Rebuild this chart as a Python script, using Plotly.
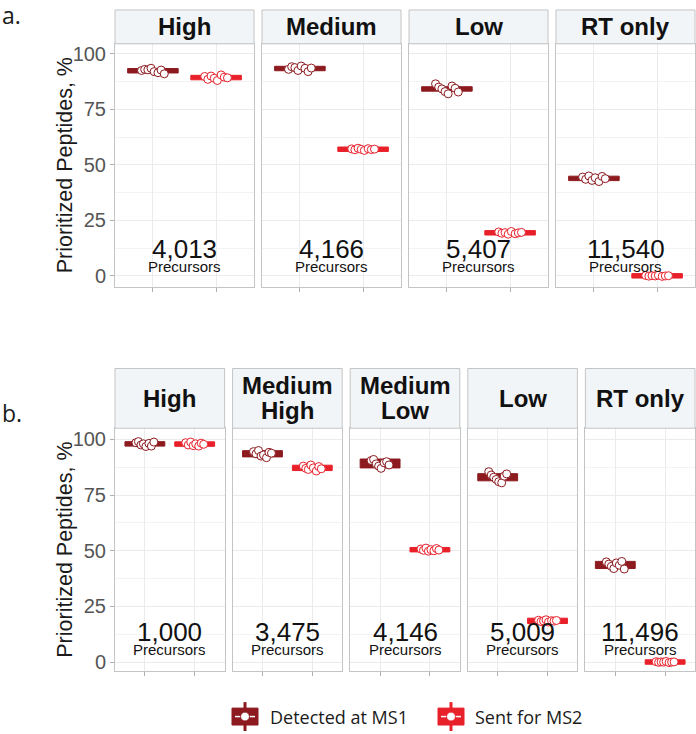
import plotly.graph_objects as go

# ---------------- data ----------------
facets_a = ["High", "Medium", "Low", "RT only"]
precursors_a = ["4,013", "4,166", "5,407", "11,540"]
detected_a = [
    [92.5, 93.0, 92.8, 93.5, 92.0, 91.5, 92.7, 91.0],
    [93.0, 94.2, 93.8, 92.5, 94.5, 93.5, 92.0, 93.6],
    [86.5, 85.0, 84.2, 83.0, 82.0, 85.5, 84.5, 82.8],
    [44.5, 43.5, 45.0, 43.0, 44.2, 42.5, 44.8, 43.8],
]
detected_sd_a = [1.0, 1.0, 1.0, 1.0]
sent_a = [
    [89.8, 88.5, 90.0, 89.0, 88.0, 90.5, 89.5, 89.2],
    [57.2, 56.8, 57.5, 57.0, 56.5, 57.3, 56.9, 57.1],
    [19.8, 19.2, 19.5, 18.8, 20.0, 19.0, 19.4, 19.6],
    [0.2, -0.1, 0.1, 0.0, 0.3, -0.2, 0.0, 0.1],
]
sent_sd_a = [1.0, 1.0, 1.0, 1.0]

facets_b = ["High", "Medium<br>High", "Medium<br>Low", "Low", "RT only"]
precursors_b = ["1,000", "3,475", "4,146", "5,009", "11,496"]
detected_b = [
    [98.5, 99.0, 97.5, 98.0, 96.8, 98.2, 97.0, 98.8],
    [94.5, 93.5, 95.0, 92.5, 93.0, 91.8, 94.2, 93.8],
    [90.5, 91.0, 89.0, 88.0, 87.0, 89.5, 90.0, 88.5],
    [85.5, 84.0, 83.0, 82.0, 81.0, 80.5, 83.5, 84.5],
    [45.0, 44.0, 43.0, 42.0, 44.5, 43.5, 45.2, 41.8],
]
detected_sd_b = [1.0, 1.4, 2.0, 1.6, 1.6]
sent_b = [
    [98.5, 97.5, 98.8, 97.2, 98.0, 97.0, 98.3, 97.8],
    [88.0, 87.0, 86.5, 88.5, 87.2, 85.8, 87.8, 86.8],
    [50.8, 50.2, 51.2, 49.8, 50.5, 50.0, 51.0, 50.3],
    [18.8, 18.2, 18.5, 19.0, 18.0, 18.6, 18.4, 18.7],
    [0.2, -0.1, 0.1, 0.0, 0.3, -0.2, 0.0, 0.1],
]
sent_sd_b = [1.0, 1.2, 1.0, 1.2, 1.0]

series_names = ["Detected at MS1", "Sent for MS2"]
y_ticks = [0, 25, 50, 75, 100]

# ---------------- style ----------------
W, H = 696, 734
COL = ["#8c1a1f", "#e8202a"]
JIT = [-0.18, -0.13, -0.08, -0.03, 0.02, 0.08, 0.13, 0.18]
STRIP_FILL = "#f2f5f8"
BORDER = "#c4c4c4"
GRID = "#ebebeb"
FONT = "Liberation Sans"


def fx(x):
    return x / W


def fy(y):
    return 1 - y / H


fig = go.Figure()
layout = dict(width=W, height=H, autosize=False, margin=dict(l=0, r=0, t=0, b=0),
              plot_bgcolor="white", paper_bgcolor="white", showlegend=False,
              barmode="overlay")
shapes = []
annotations = []

rows = [
    dict(facets=facets_a, prec=precursors_a, det=detected_a, sent=sent_a,
         dsd=detected_sd_a, ssd=sent_sd_a,
         x0=115, x1=695, gap=8, strip=(9, 43), plot=(43, 287), yr=[-4.9, 104.5],
         ny=12.2, py=4.2, label="a.", label_y=14),
    dict(facets=facets_b, prec=precursors_b, det=detected_b, sent=sent_b,
         dsd=detected_sd_b, ssd=sent_sd_b,
         x0=115, x1=695, gap=8, strip=(369, 429), plot=(429, 673), yr=[-4.1, 105.0],
         ny=13.4, py=5.6, label="b.", label_y=414),
]

ax = 0
for r in rows:
    n = len(r["facets"])
    pw = (r["x1"] - r["x0"] - (n - 1) * r["gap"]) / n
    for i in range(n):
        ax += 1
        xa = "x" if ax == 1 else f"x{ax}"
        ya = "y" if ax == 1 else f"y{ax}"
        left = r["x0"] + i * (pw + r["gap"])
        right = left + pw
        first = i == 0
        layout["xaxis" if ax == 1 else f"xaxis{ax}"] = dict(
            domain=[fx(left), fx(right)], anchor=ya, range=[-0.6, 1.6],
            tickvals=[0, 1], showticklabels=False, ticks="outside", ticklen=4,
            tickcolor="#b0b0b0", showgrid=True, gridcolor=GRID, gridwidth=1,
            showline=True, mirror=True, linecolor=BORDER, linewidth=1,
            zeroline=False, fixedrange=True)
        layout["yaxis" if ax == 1 else f"yaxis{ax}"] = dict(
            domain=[fy(r["plot"][1]), fy(r["plot"][0])], anchor=xa, range=r["yr"],
            tickvals=y_ticks, showticklabels=first, ticks="outside" if first else "",
            ticklen=4, tickcolor="#b0b0b0",
            tickfont=dict(family=FONT, size=20, color="#555555"),
            showgrid=True, gridcolor=GRID, gridwidth=1,
            minor=dict(tickvals=[12.5, 37.5, 62.5, 87.5], showgrid=True,
                       gridcolor="#f3f3f3", gridwidth=1),
            showline=True, mirror=True, linecolor=BORDER, linewidth=1,
            zeroline=False, fixedrange=True)
        # strip
        shapes.append(dict(type="rect", xref="paper", yref="paper",
                           x0=fx(left), x1=fx(right), y0=fy(r["strip"][1]), y1=fy(r["strip"][0]),
                           fillcolor=STRIP_FILL, line=dict(color=BORDER, width=1)))
        lines = r["facets"][i].split("<br>")
        sc = (r["strip"][0] + r["strip"][1]) / 2
        lh = 25
        for li, txt in enumerate(lines):
            yy = sc + (li - (len(lines) - 1) / 2) * lh
            annotations.append(dict(xref="paper", yref="paper", x=fx((left + right) / 2),
                                    y=fy(yy), text="<b>" + txt + "</b>", showarrow=False,
                                    font=dict(family=FONT, size=24, color="#111111"),
                                    xanchor="center", yanchor="middle"))
        # data
        for s, (vals, sd) in enumerate([(r["det"][i], r["dsd"][i]), (r["sent"][i], r["ssd"][i])]):
            m = sum(vals) / len(vals)
            fig.add_trace(go.Bar(x=[s], y=[2 * sd], base=[m - sd], width=0.8,
                                 marker=dict(color=COL[s], line=dict(color=COL[s], width=1)),
                                 xaxis=xa, yaxis=ya, name=series_names[s]))
            fig.add_trace(go.Scatter(x=[s + j for j in JIT[:len(vals)]], y=vals, mode="markers",
                                     marker=dict(size=8, color="white",
                                                 line=dict(color=COL[s], width=1)),
                                     xaxis=xa, yaxis=ya, name=series_names[s]))
        # counts
        annotations.append(dict(xref=xa, yref=ya, x=0.5, y=r["ny"], text=r["prec"][i],
                                showarrow=False, font=dict(family=FONT, size=26, color="#111111"),
                                xanchor="center", yanchor="middle"))
        annotations.append(dict(xref=xa, yref=ya, x=0.5, y=r["py"], text="Precursors",
                                showarrow=False, font=dict(family=FONT, size=15, color="#111111"),
                                xanchor="center", yanchor="middle"))
    # y title
    annotations.append(dict(xref="paper", yref="paper", x=fx(65),
                            y=fy((r["plot"][0] + r["plot"][1]) / 2),
                            text="Prioritized Peptides, %", textangle=-90, showarrow=False,
                            font=dict(family=FONT, size=21.5, color="#1a1a1a"),
                            xanchor="center", yanchor="middle"))
    annotations.append(dict(xref="paper", yref="paper", x=0, y=fy(r["label_y"]),
                            text=r["label"], showarrow=False,
                            font=dict(family="Open Sans", size=23, color="#1a1a1a"),
                            xanchor="left", yanchor="middle"))

# legend (drawn)
leg = [(232, 268, series_names[0]), (438, 473, series_names[1])]
for k, (ix, tx, name) in enumerate(leg):
    c = COL[k]
    cx = ix + 13
    shapes.append(dict(type="line", xref="paper", yref="paper", x0=fx(cx), x1=fx(cx),
                       y0=fy(704), y1=fy(733), line=dict(color=c, width=3)))
    shapes.append(dict(type="rect", xref="paper", yref="paper", x0=fx(ix), x1=fx(ix + 26),
                       y0=fy(727), y1=fy(710), fillcolor=c, line=dict(color=c, width=1)))
    shapes.append(dict(type="line", xref="paper", yref="paper", x0=fx(ix + 3), x1=fx(ix + 23),
                       y0=fy(718.5), y1=fy(718.5), line=dict(color="white", width=1.5)))
    shapes.append(dict(type="circle", xref="paper", yref="paper", x0=fx(cx - 4.5), x1=fx(cx + 4.5),
                       y0=fy(723), y1=fy(714), fillcolor="white", line=dict(color=c, width=1)))
    annotations.append(dict(xref="paper", yref="paper", x=fx(tx), y=fy(719), text=name,
                            showarrow=False, font=dict(family="Open Sans", size=18, color="#1a1a1a"),
                            xanchor="left", yanchor="middle"))

layout["shapes"] = shapes
layout["annotations"] = annotations
fig.update_layout(**layout)
fig.write_html("out.html", config={"displayModeBar": False},
               post_script="document.body.style.margin='0';document.body.style.overflow='hidden';")
